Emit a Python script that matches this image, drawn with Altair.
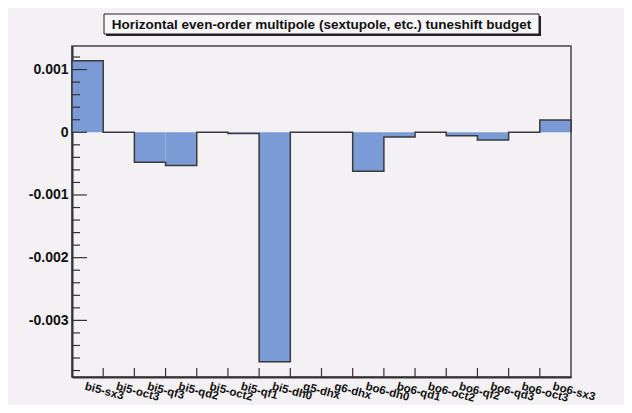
import altair as alt
import numpy as np
import pandas as pd

title_text = "Horizontal even-order multipole (sextupole, etc.) tuneshift budget"
names = ["bi5-sx3", "bi5-oct3", "bi5-qf3", "bi5-qd2", "bi5-oct2", "bi5-qf1", "bi5-dh0",
         "g5-dhx", "g6-dhx", "bo6-dh0", "bo6-qd1", "bo6-oct2", "bo6-qf2", "bo6-qd3",
         "bo6-oct3", "bo6-sx3"]
values = [0.00114, 0.0, -0.00048, -0.00053, 0.0, -0.00002, -0.00366,
          0.0, 0.0, -0.00062, -0.000075, 0.0, -0.000054, -0.000123,
          0.0, 0.000196]
major_ticks = [-0.003, -0.002, -0.001, 0.0, 0.001]

W, H = 499, 331
FILL = "#7b9bd6"
BG = "#f4f1f4"
FONT = "Liberation Sans"

n = len(names)
bars = pd.DataFrame({
    "name": names,
    "v": values,
    "lo": np.arange(n),
    "hi": np.arange(n) + 1,
    "mid": np.arange(n) + 0.5,
    "zero": 0.0,
})

# step outline points
sx = [0] + list(range(n)) + [n, n]
sy = [0.0] + values + [values[-1], 0.0]
steps = pd.DataFrame({"x": sx, "y": sy, "o": range(len(sx))})

edges = pd.DataFrame({"e": list(range(1, n))})
minor = [round(v, 4) for v in np.arange(-0.0038, 0.00121, 0.0002)]
minor = [v for v in minor if all(abs(v - m) > 1e-9 for m in major_ticks)]
minor_df = pd.DataFrame({"t": minor})
major_df = pd.DataFrame({"t": major_ticks})

xs = alt.Scale(domain=[0, n], nice=False, zero=False)
ys = alt.Scale(domain=[-0.003903, 0.001376], nice=False, zero=False)

xax = alt.Axis(labels=False, ticks=False, grid=False, title=None,
               domainColor="#333333", domainWidth=2)
yax = alt.Axis(values=major_ticks, ticks=False, grid=False, title=None,
               labelFontWeight="bold", labelFontSize=14, labelFont=FONT,
               labelColor="#111111", labelPadding=4,
               domainColor="#333333", domainWidth=2,
               labelExpr="datum.value == 0 ? '0' : (datum.value < 0 ? '-' : '') + format(abs(datum.value), '.3f')")

rects = alt.Chart(bars).mark_rect(color=FILL).encode(
    x=alt.X("lo:Q", scale=xs, axis=xax),
    x2="hi:Q",
    y=alt.Y("v:Q", scale=ys, axis=yax),
    y2="zero:Q",
)

outline = alt.Chart(steps).mark_line(interpolate="step-after", color="#3a3a3a", strokeWidth=1.5).encode(
    x=alt.X("x:Q", scale=xs),
    y=alt.Y("y:Q", scale=ys),
    order="o:Q",
)

xticks = alt.Chart(edges).mark_rule(color="#333333", strokeWidth=1.2).encode(
    x=alt.X("e:Q", scale=xs),
    y=alt.value(H - 9),
    y2=alt.value(H),
)

ymaj = alt.Chart(major_df).mark_rule(color="#333333", strokeWidth=1.2).encode(
    y=alt.Y("t:Q", scale=ys),
    x=alt.value(0),
    x2=alt.value(15),
)
ymin = alt.Chart(minor_df).mark_rule(color="#333333", strokeWidth=1.2).encode(
    y=alt.Y("t:Q", scale=ys),
    x=alt.value(0),
    x2=alt.value(8),
)

xlabels = alt.Chart(bars).mark_text(
    align="left", baseline="top", angle=15, font=FONT, fontSize=11.5,
    fontWeight="bold", color="#111111", dx=-1
).encode(
    x=alt.X("mid:Q", scale=xs),
    y=alt.value(H + 4),
    text="name:N",
)

tdf = pd.DataFrame({"t": [title_text]})
shadow = alt.Chart(tdf).mark_rect(color="#222222").encode(
    x=alt.value(34), x2=alt.value(469), y=alt.value(-30), y2=alt.value(-10)
)
box = alt.Chart(tdf).mark_rect(fill="#f8f6f8", stroke="#222222", strokeWidth=1).encode(
    x=alt.value(32), x2=alt.value(467), y=alt.value(-32), y2=alt.value(-12)
)
ttext = alt.Chart(tdf).mark_text(
    font=FONT, fontSize=13.5, fontWeight="bold", color="#111111",
    align="center", baseline="middle"
).encode(x=alt.value(249.5), y=alt.value(-21.5), text="t:N")

chart = alt.layer(
    rects, outline, xticks, ymaj, ymin, xlabels, shadow, box, ttext
).properties(
    width=W, height=H,
    autosize=alt.AutoSizeParams(type="none"),
    padding={"left": 64, "top": 38, "right": 53, "bottom": 28},
    background=BG,
).configure_view(
    stroke="#444444", strokeWidth=1.5, fill=BG
)

chart.save("out.html", embed_options={"renderer": "svg", "actions": False})
